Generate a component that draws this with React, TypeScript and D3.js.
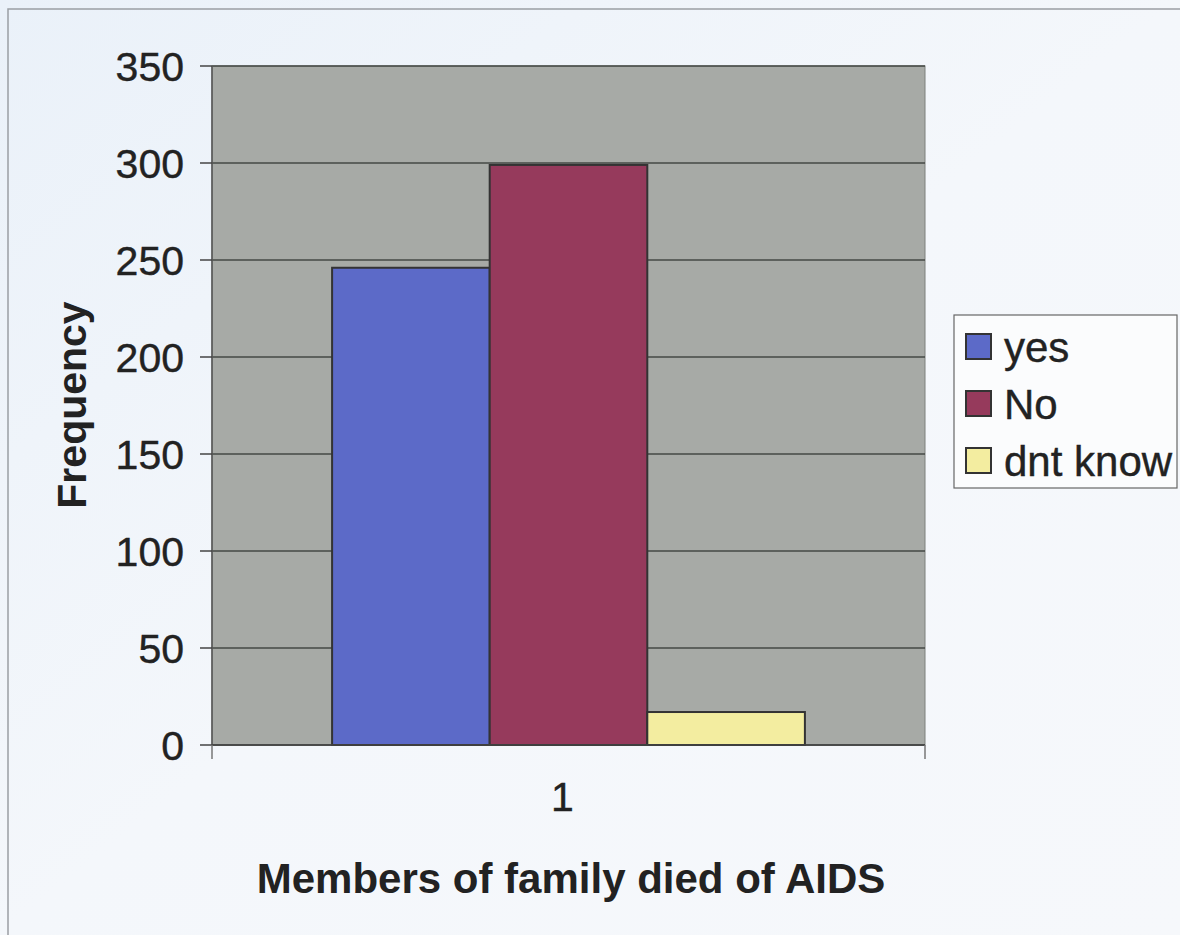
import React from "react";
import * as d3 from "d3";

const categories = ["1"];
const seriesNames = ["yes", "No", "dnt know"];
const seriesValues = [246, 299, 17];
const seriesColors = ["#5c6ac8", "#963a5c", "#f3eda0"];
const yTicks = [0, 50, 100, 150, 200, 250, 300, 350];
const xTitle = "Members of family died of AIDS";
const yTitle = "Frequency";

const W = 1180;
const H = 935;
const plot = { left: 212, right: 925, top: 66, bottom: 745 };
const FONT = "'Liberation Sans', Arial, sans-serif";
const TEXT = "#222";

export default function App() {
  const y = d3.scaleLinear().domain([0, 350]).range([plot.bottom, plot.top]);
  const x0 = d3
    .scaleBand<string>()
    .domain(categories)
    .range([plot.left, plot.right])
    .paddingInner(0)
    .paddingOuter(0.254);
  const x1 = d3
    .scaleBand<string>()
    .domain(seriesNames)
    .range([0, x0.bandwidth()])
    .padding(0);

  const legend = { x: 954, y: 315, w: 223, h: 173 };

  return (
    <svg
      width={W}
      height={H}
      style={{ position: "absolute", left: 0, top: 0, display: "block" }}
    >
      <defs>
        <linearGradient id="bg" x1="0" y1="0" x2="1" y2="1">
          <stop offset="0" stopColor="#eaf1f9" />
          <stop offset="0.5" stopColor="#f4f7fb" />
          <stop offset="1" stopColor="#f6f8fb" />
        </linearGradient>
      </defs>
      <rect x={0} y={0} width={W} height={H} fill="url(#bg)" />
      {/* outer chart frame */}
      <rect
        x={8}
        y={9}
        width={W + 20}
        height={H + 20}
        fill="none"
        stroke="#9a9ea4"
        strokeWidth={1.5}
      />
      {/* plot area */}
      <rect
        x={plot.left}
        y={plot.top}
        width={plot.right - plot.left}
        height={plot.bottom - plot.top}
        fill="#a7aaa6"
        stroke="#7d807d"
        strokeWidth={1}
      />
      {/* gridlines */}
      {yTicks.map((t) => (
        <line
          key={"g" + t}
          x1={plot.left}
          x2={plot.right}
          y1={y(t)}
          y2={y(t)}
          stroke="#454845"
          strokeWidth={1.5}
        />
      ))}
      {/* bars */}
      {categories.map((c) =>
        seriesNames.map((s, i) => (
          <rect
            key={c + s}
            x={(x0(c) ?? 0) + (x1(s) ?? 0)}
            y={y(seriesValues[i])}
            width={x1.bandwidth()}
            height={y(0) - y(seriesValues[i])}
            fill={seriesColors[i]}
            stroke="#333"
            strokeWidth={2}
          />
        ))
      )}
      {/* y axis */}
      <line
        x1={plot.left}
        x2={plot.left}
        y1={plot.top}
        y2={plot.bottom}
        stroke="#555"
        strokeWidth={1.5}
      />
      {yTicks.map((t) => (
        <g key={"t" + t}>
          <line
            x1={plot.left - 12}
            x2={plot.left}
            y1={y(t)}
            y2={y(t)}
            stroke="#444"
            strokeWidth={1.5}
          />
          <text
            x={184}
            y={y(t) + 15}
            textAnchor="end"
            fontFamily={FONT}
            fontSize={41}
            fill={TEXT}
            stroke={TEXT}
            strokeWidth={0.4}
          >
            {t}
          </text>
        </g>
      ))}
      {/* x axis */}
      <line
        x1={plot.left}
        x2={plot.right}
        y1={plot.bottom}
        y2={plot.bottom}
        stroke="#444"
        strokeWidth={1.5}
      />
      {[plot.left, plot.right].map((xx) => (
        <line
          key={"xt" + xx}
          x1={xx}
          x2={xx}
          y1={plot.bottom}
          y2={plot.bottom + 14}
          stroke="#777"
          strokeWidth={1.5}
        />
      ))}
      {categories.map((c) => (
        <text
          key={"xl" + c}
          x={(x0(c) ?? 0) + x0.bandwidth() / 2 - 6}
          y={811}
          textAnchor="middle"
          fontFamily={FONT}
          fontSize={41}
          fill={TEXT}
          stroke={TEXT}
          strokeWidth={0.4}
        >
          {c}
        </text>
      ))}
      {/* axis titles */}
      <text
        x={571}
        y={893}
        textAnchor="middle"
        fontFamily={FONT}
        fontSize={42}
        fontWeight="bold"
        fill={TEXT}
      >
        {xTitle}
      </text>
      <text
        transform="translate(86,405) rotate(-90)"
        textAnchor="middle"
        fontFamily={FONT}
        fontSize={41}
        fontWeight="bold"
        fill={TEXT}
      >
        {yTitle}
      </text>
      {/* legend */}
      <rect
        x={legend.x}
        y={legend.y}
        width={legend.w}
        height={legend.h}
        fill="#fbfcfd"
        stroke="#666"
        strokeWidth={1.2}
      />
      {seriesNames.map((s, i) => (
        <g key={"lg" + s}>
          <rect
            x={966}
            y={334 + i * 57}
            width={25}
            height={25}
            fill={seriesColors[i]}
            stroke="#333"
            strokeWidth={2}
          />
          <text
            x={1004}
            y={362 + i * 57}
            fontFamily={FONT}
            fontSize={42}
            fill={TEXT}
            stroke={TEXT}
            strokeWidth={0.4}
          >
            {s}
          </text>
        </g>
      ))}
    </svg>
  );
}
